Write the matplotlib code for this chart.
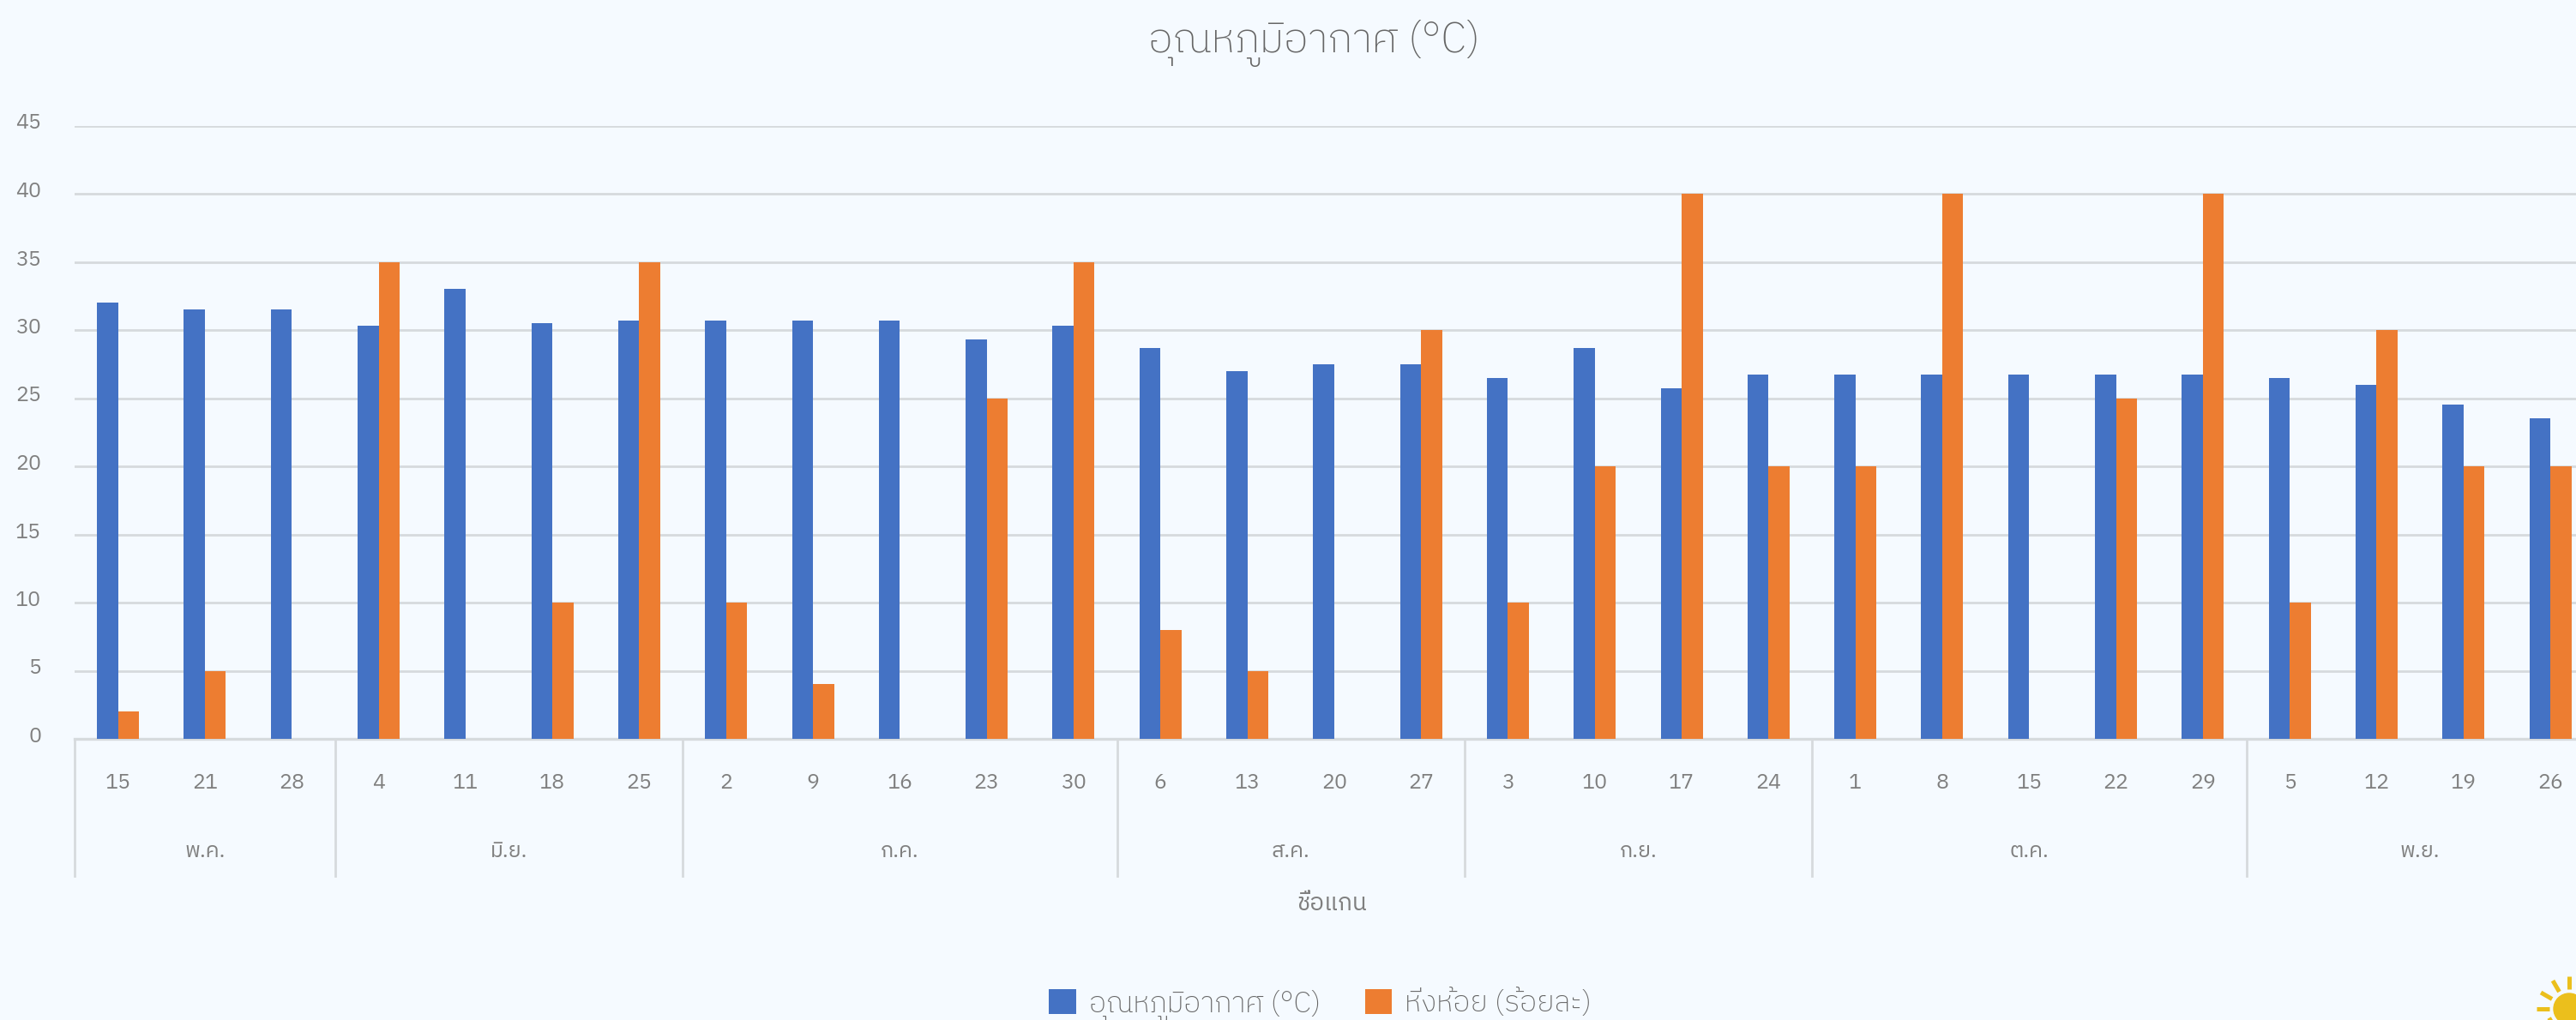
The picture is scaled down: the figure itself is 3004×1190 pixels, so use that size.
import numpy as np
import matplotlib
matplotlib.use('Agg')
import matplotlib.pyplot as plt
from matplotlib.patches import Circle
from matplotlib.transforms import ScaledTranslation

plt.rcParams['font.family'] = ['IBM Plex Sans Thai', 'Loma', 'DejaVu Sans']
plt.rcParams['font.weight'] = 'normal'

days = ['15', '21', '28', '4', '11', '18', '25', '2', '9', '16', '23', '30', '6', '13', '20',
        '27', '3', '10', '17', '24', '1', '8', '15', '22', '29', '5', '12', '19', '26']
temp = [32, 31.5, 31.5, 30.3, 33, 30.5, 30.7, 30.7, 30.7, 30.7, 29.3, 30.3, 28.7, 27, 27.5,
        27.5, 26.5, 28.7, 25.7, 26.7, 26.7, 26.7, 26.7, 26.7, 26.7, 26.5, 26, 24.5, 23.5]
wilt = [2, 5, 0, 35, 0, 10, 35, 10, 4, 0, 25, 35, 8, 5, 0,
        30, 10, 20, 40, 20, 20, 40, 0, 25, 40, 10, 30, 20, 20]
months = ['พ.ค.', 'มิ.ย.', 'ก.ค.', 'ส.ค.', 'ก.ย.', 'ต.ค.', 'พ.ย.']
month_len = [3, 4, 5, 4, 4, 5, 4]

W, H = 3004, 1190
BG = '#F5FAFF'
GREY = '#7F7F7F'
LINE = '#D6DADD'

fig = plt.figure(figsize=(W / 100, H / 100), dpi=100, facecolor=BG)
ax = fig.add_axes([87 / W, 1 - 862 / H, (W - 87) / W, (862 - 146.5) / H], facecolor=BG)

x = np.arange(len(days))
step = 101.3
bar_w = 24.5 / step
ax.bar(x - bar_w / 2, temp, bar_w, color='#4472C4', zorder=3, label='อุณหภูมิอากาศ (°C)')
ax.bar(x + bar_w / 2, wilt, bar_w, color='#ED7D31', zorder=3, label='หิ่งห้อย (ร้อยละ)')

ax.set_xlim(-0.5, (W - 87) / step - 0.5)
ax.set_ylim(0, 45)
ax.set_yticks(range(0, 50, 5))
ax.yaxis.grid(True, color=LINE, lw=2.0, zorder=1)
ax.tick_params(axis='y', length=0, pad=28, labelsize=18, labelcolor=GREY)
ax.set_xticks(x)
ax.set_xticklabels(days)
ax.tick_params(axis='x', length=0, pad=29, labelsize=18, labelcolor=GREY)
for side in ['top', 'right', 'left']:
    ax.spines[side].set_visible(False)
ax.spines['bottom'].set_color(LINE)
ax.spines['bottom'].set_linewidth(2.4)

# y labels sit a little above their gridlines in the original
up = ScaledTranslation(0, 5 / 100, fig.dpi_scale_trans)
for lab in ax.get_yticklabels():
    lab.set_transform(lab.get_transform() + up)

# month brackets under the day labels
tr = ax.get_xaxis_transform()
start = 0
ax.plot([-0.5, -0.5], [0, -160 / 715.5], transform=tr, color=LINE, lw=2.0, clip_on=False)
for name, n in zip(months, month_len):
    end = start + n
    ax.plot([end - 0.5, end - 0.5], [0, -160 / 715.5], transform=tr, color=LINE, lw=2.0, clip_on=False)
    ax.text(start + n / 2 - 0.5, -132 / 715.5, name, transform=tr, ha='center', va='center',
            fontsize=18, color=GREY)
    start = end

fig.text(1533 / W, 1 - 51 / H, 'อุณหภูมิอากาศ (°C)', ha='center', va='center', fontsize=35,
         color='#666666', weight='light')
fig.text(1553 / W, 1 - 1054 / H, 'ชื่อแกน', ha='center', va='center', fontsize=20, color=GREY)

handles, labels = ax.get_legend_handles_labels()
fig.legend(handles, labels, loc='center', bbox_to_anchor=(1540 / W, 1 - 1173 / H), ncol=2, frameon=False,
           prop={'size': 24.5, 'weight': 'light'}, labelcolor='#666666', handlelength=0.92, handleheight=0.92,
           handletextpad=0.45, columnspacing=1.5)

# sun icon in the bottom right corner, pixel coordinates
deco = fig.add_axes([0, 0, 1, 1], facecolor='none')
deco.set_xlim(0, W)
deco.set_ylim(H, 0)
deco.axis('off')
sun = '#EBBF1C'
deco.add_patch(Circle((2996, 1177), 18, color=sun))
for deg in range(0, 360, 30):
    a = np.deg2rad(deg)
    deco.plot([2996 + 23 * np.cos(a), 2996 + 38 * np.cos(a)], [1177 + 23 * np.sin(a), 1177 + 38 * np.sin(a)],
              color=sun, lw=3.6, solid_capstyle='butt')

fig.savefig('out.png', dpi=100, facecolor=BG)
